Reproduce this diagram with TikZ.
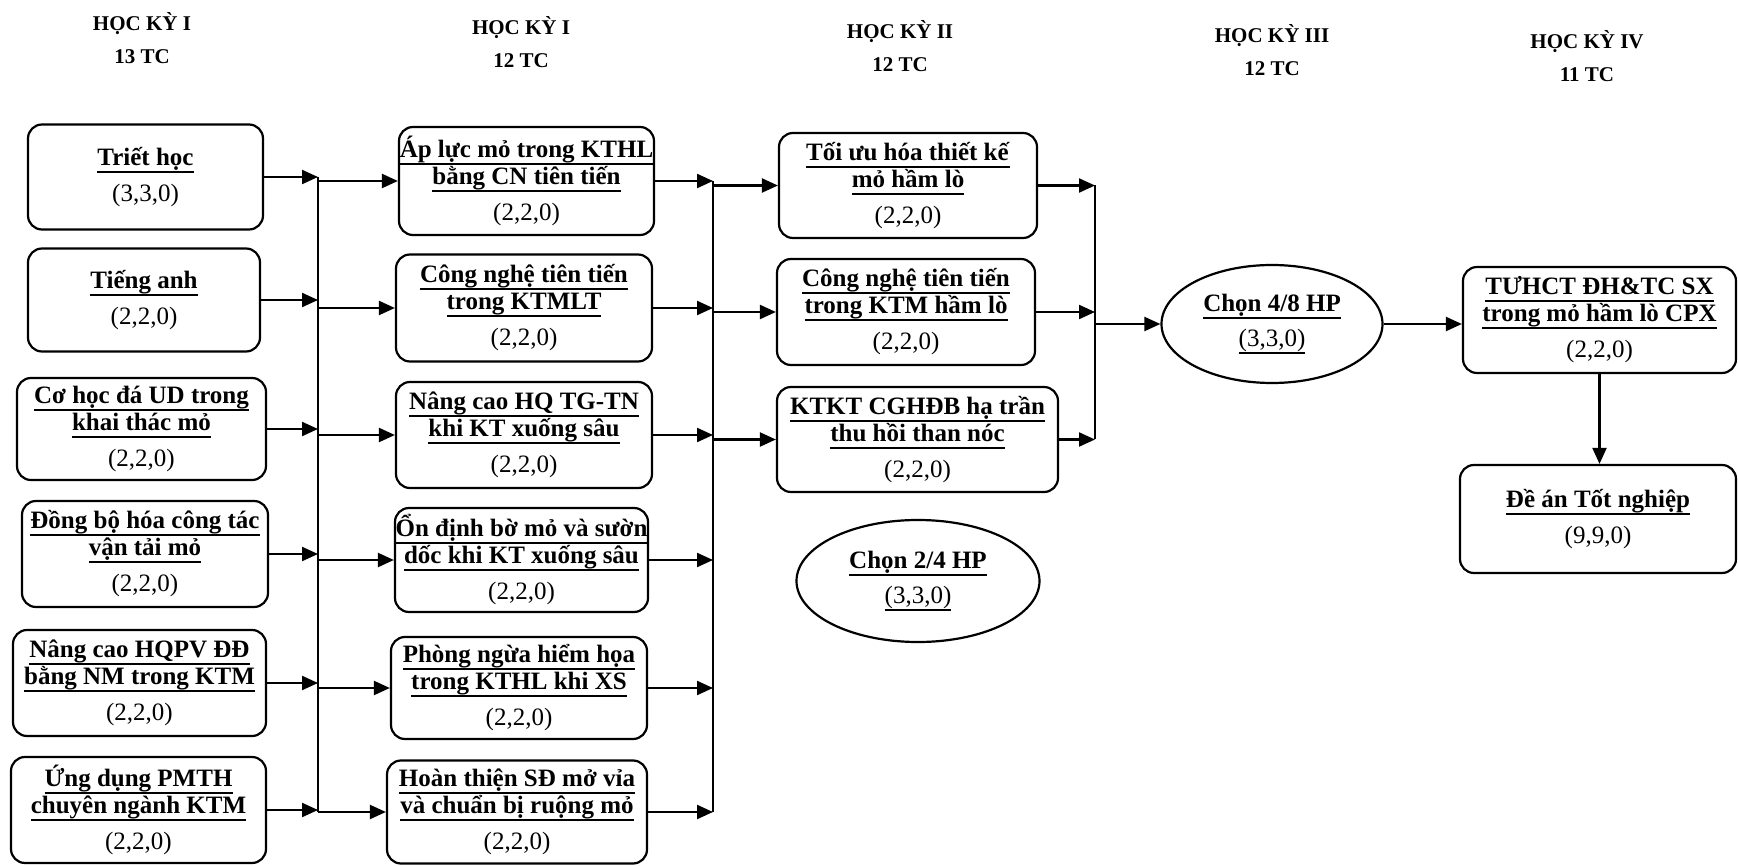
\documentclass[tikz,border=0pt]{standalone}
\usepackage{fontspec}
\setmainfont{Liberation Serif}
\usetikzlibrary{shapes.geometric,arrows.meta}
\newcommand{\myul}[1]{\leavevmode\setbox0=\hbox{#1}\dp0=0pt\vtop{\copy0\kern 5.5pt\hrule height 1.8pt}}
\newcommand{\ttl}[1]{\myul{\textbf{#1}}}
\tikzset{
  course/.style={draw, line width=2.2pt, rounded corners=14pt, align=center,
    font=\fontsize{25}{27}\selectfont, inner sep=0pt},
  choice/.style={draw, ellipse, line width=2.2pt, align=center,
    font=\fontsize{25}{27}\selectfont, inner sep=0pt},
  hdr/.style={font=\bfseries\fontsize{21}{33}\selectfont, align=center},
  arr/.style={line width=2.2pt, -{Triangle[length=16pt,width=14pt]}},
  bus/.style={line width=2.2pt}
}
\begin{document}
\begin{tikzpicture}[x=1pt,y=-1pt]
\useasboundingbox (0,0) rectangle (1738,866);
\fill[white] (0,0) rectangle (1738,866);

% headers
\node[hdr] (h1) at (142,38) {HỌC KỲ I\\13 TC};
\node[hdr] (h2) at (521,42) {HỌC KỲ I\\12 TC};
\node[hdr] (h3) at (900,46) {HỌC KỲ II\\12 TC};
\node[hdr] (h4) at (1272,50) {HỌC KỲ III\\12 TC};
\node[hdr] (h5) at (1587,56) {HỌC KỲ IV\\11 TC};

% column 1
\node[course, minimum width=235, minimum height=105] (a1) at (145.5,177)
  {\ttl{Triết học}\\[9pt](3,3,0)};
\node[course, minimum width=232, minimum height=103] (a2) at (144,300)
  {\ttl{Tiếng anh}\\[9pt](2,2,0)};
\node[course, minimum width=249, minimum height=102] (a3) at (141.5,429)
  {\ttl{Cơ học đá UD trong}\\\ttl{khai thác mỏ}\\[9pt](2,2,0)};
\node[course, minimum width=246, minimum height=106] (a4) at (145,554)
  {\ttl{Đồng bộ hóa công tác}\\\ttl{vận tải mỏ}\\[9pt](2,2,0)};
\node[course, minimum width=253, minimum height=106] (a5) at (139.5,683)
  {\ttl{Nâng cao HQPV ĐĐ}\\\ttl{bằng NM trong KTM}\\[9pt](2,2,0)};
\node[course, minimum width=255, minimum height=106] (a6) at (138.5,810)
  {\ttl{Ứng dụng PMTH}\\\ttl{chuyên ngành KTM}\\[9pt](2,2,0)};

% column 2
\node[course, minimum width=255, minimum height=108] (b1) at (526.5,181)
  {\ttl{Áp lực mỏ trong KTHL}\\\ttl{bằng CN tiên tiến}\\[9pt](2,2,0)};
\node[course, minimum width=256, minimum height=107] (b2) at (524,308)
  {\ttl{Công nghệ tiên tiến}\\\ttl{trong KTMLT}\\[9pt](2,2,0)};
\node[course, minimum width=256, minimum height=106] (b3) at (524,435)
  {\ttl{Nâng cao HQ TG-TN}\\\ttl{khi KT xuống sâu}\\[9pt](2,2,0)};
\node[course, minimum width=253, minimum height=104] (b4) at (521.5,560)
  {\ttl{Ổn định bờ mỏ và sườn}\\\ttl{dốc khi KT xuống sâu}\\[9pt](2,2,0)};
\node[course, minimum width=256, minimum height=102] (b5) at (519,688)
  {\ttl{Phòng ngừa hiểm họa}\\\ttl{trong KTHL khi XS}\\[9pt](2,2,0)};
\node[course, minimum width=260, minimum height=103] (b6) at (517,812)
  {\ttl{Hoàn thiện SĐ mở vỉa}\\\ttl{và chuẩn bị ruộng mỏ}\\[9pt](2,2,0)};

% column 3
\node[course, minimum width=258, minimum height=105] (c1) at (908,185.5)
  {\ttl{Tối ưu hóa thiết kế}\\\ttl{mỏ hầm lò}\\[9pt](2,2,0)};
\node[course, minimum width=258, minimum height=106] (c2) at (906,312)
  {\ttl{Công nghệ tiên tiến}\\\ttl{trong KTM hầm lò}\\[9pt](2,2,0)};
\node[course, minimum width=281, minimum height=105] (c3) at (917.5,439.5)
  {\ttl{KTKT CGHĐB hạ trần}\\\ttl{thu hồi than nóc}\\[9pt](2,2,0)};
\node[choice, minimum width=243, minimum height=122] (e24) at (918,581)
  {\ttl{Chọn 2/4 HP}\\[8pt]\myul{(3,3,0)}};

% column 4 and 5
\node[choice, minimum width=221, minimum height=118] (e48) at (1272,324)
  {\ttl{Chọn 4/8 HP}\\[8pt]\myul{(3,3,0)}};
\node[course, minimum width=273, minimum height=106] (d1) at (1599.5,320)
  {\ttl{TƯHCT ĐH\&TC SX}\\\ttl{trong mỏ hầm lò CPX}\\[9pt](2,2,0)};
\node[course, minimum width=276, minimum height=108] (d2) at (1598,519)
  {\ttl{Đề án Tốt nghiệp}\\[9pt](9,9,0)};

% buses
\coordinate (p1t) at (318,177);
\coordinate (p1b) at (318,812);
\coordinate (p2t) at (713,181);
\coordinate (p2b) at (713,812);
\coordinate (p3t) at (1095,185.5);
\coordinate (p3b) at (1095,439.5);
\draw[bus] (p1t) -- (p1b);
\draw[bus] (p2t) -- (p2b);
\draw[bus] (p3t) -- (p3b);

% column 1 -> bus 1 -> column 2
\foreach \n in {a1,a2,a3,a4,a5,a6}
  \draw[arr] (\n.east) -- (\n.east -| p1t);
\foreach \n in {b1,b2,b3,b4,b5,b6}
  \draw[arr] (\n.west -| p1t) -- (\n.west);
% column 2 -> bus 2 -> column 3
\foreach \n in {b1,b2,b3,b4,b5,b6}
  \draw[arr] (\n.east) -- (\n.east -| p2t);
\foreach \n in {c1,c2,c3}
  \draw[arr] (\n.west -| p2t) -- (\n.west);
% column 3 -> bus 3 -> choice
\foreach \n in {c1,c2,c3}
  \draw[arr] (\n.east) -- (\n.east -| p3t);
\draw[arr] (e48.west -| p3t) -- (e48.west);
\draw[arr] (e48.east) -- (e48.east -| d1.west);
\draw[arr] (d1.south) -- (d1.south |- d2.north);
\end{tikzpicture}
\end{document}
